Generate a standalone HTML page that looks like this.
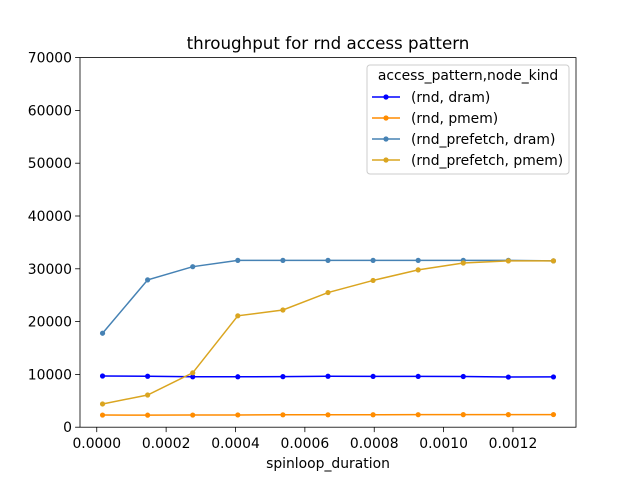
<!DOCTYPE html>
<html><head><meta charset="utf-8"><style>body{margin:0;background:#fff}svg{display:block;font-family:"DejaVu Sans","Liberation Sans",sans-serif}</style></head>
<body>
<svg id="chart" width="640" height="480" viewBox="0 0 640 480" xmlns="http://www.w3.org/2000/svg"></svg>
<script>
const xValues = [0.0000167,0.0001467,0.0002767,0.0004067,0.0005367,0.0006667,0.0007967,0.0009267,0.0010567,0.0011867,0.0013167];
const rndDram = [9700,9650,9550,9550,9580,9650,9620,9620,9600,9500,9520];
const rndPmem = [2300,2280,2300,2320,2350,2350,2360,2370,2380,2380,2390];
const prefDram = [17800,27900,30400,31600,31600,31600,31600,31600,31600,31600,31500];
const prefPmem = [4400,6100,10300,21100,22200,25500,27800,29800,31100,31500,31500];
const xTicks = [0,0.0002,0.0004,0.0006,0.0008,0.0010,0.0012];
const xTickLabels = ["0.0000","0.0002","0.0004","0.0006","0.0008","0.0010","0.0012"];
const yTicks = [0,10000,20000,30000,40000,50000,60000,70000];
const seriesNames = ["(rnd, dram)","(rnd, pmem)","(rnd_prefetch, dram)","(rnd_prefetch, pmem)"];
const seriesColors = ["#0000ff","#ff8c00","#4682b4","#daa520"];
const L=80,R=576,T=57.6,B=427.2;
const xMin=xValues[0],xMax=xValues[xValues.length-1],pad=(xMax-xMin)*0.05;
const X=v=>L+(v-(xMin-pad))/((xMax+pad)-(xMin-pad))*(R-L);
const Y=v=>B-(v/70000)*(B-T);
const svg=document.getElementById('chart');const NS='http://www.w3.org/2000/svg';
function mk(tag,attrs,parent){const e=document.createElementNS(NS,tag);for(const k in attrs)e.setAttribute(k,attrs[k]);(parent||svg).appendChild(e);return e;}
const title=mk('text',{x:328,y:49,'text-anchor':'middle','font-size':16.7});title.textContent='throughput for rnd access pattern';


xTicks.forEach((t,i)=>{const g=mk('g',{});


mk('line',{x1:X(t),x2:X(t),y1:B,y2:B+4.9,stroke:'#000','stroke-width':0.8},g);
const tx=mk('text',{x:X(t),y:B+21,'text-anchor':'middle','font-size':13.9},g);tx.textContent=xTickLabels[i];});
yTicks.forEach(t=>{const g=mk('g',{});


mk('line',{x1:L-4.9,x2:L,y1:Y(t),y2:Y(t),stroke:'#000','stroke-width':0.8},g);
const tx=mk('text',{x:L-8,y:Y(t)+5,'text-anchor':'end','font-size':13.9},g);tx.textContent=String(t);});
const xl=mk('text',{x:328,y:468,'text-anchor':'middle','font-size':13.9});xl.textContent='spinloop_duration';


[rndDram,rndPmem,prefDram,prefPmem].forEach((s,si)=>{const g=mk('g',{});


mk('polyline',{points:s.map((v,i)=>X(xValues[i])+','+Y(v)).join(' '),fill:'none',stroke:seriesColors[si],'stroke-width':1.5},g);
s.forEach((v,i)=>{const c=mk('circle',{cx:X(xValues[i]),cy:Y(v),r:2.6,fill:seriesColors[si]},g);

});});
const frame=mk('rect',{x:L,y:T,width:R-L,height:B-T,fill:'none',stroke:'#000','stroke-width':0.8});


const lg=mk('g',{});


mk('rect',{x:367,y:65,width:202,height:109,rx:3,fill:'#fff',stroke:'#ccc','stroke-width':1},lg);
const lt=mk('text',{x:468,y:80,'text-anchor':'middle','font-size':13.9},lg);lt.textContent='access_pattern,node_kind';
seriesNames.forEach((n,i)=>{const y=97+i*21;const e=mk('g',{},lg);


mk('line',{x1:372,x2:400,y1:y,y2:y,stroke:seriesColors[i],'stroke-width':1.5},e);
mk('circle',{cx:386,cy:y,r:2.6,fill:seriesColors[i]},e);
const t=mk('text',{x:411,y:y+5,'font-size':13.9},e);t.textContent=n;});
</script>
</body></html>
